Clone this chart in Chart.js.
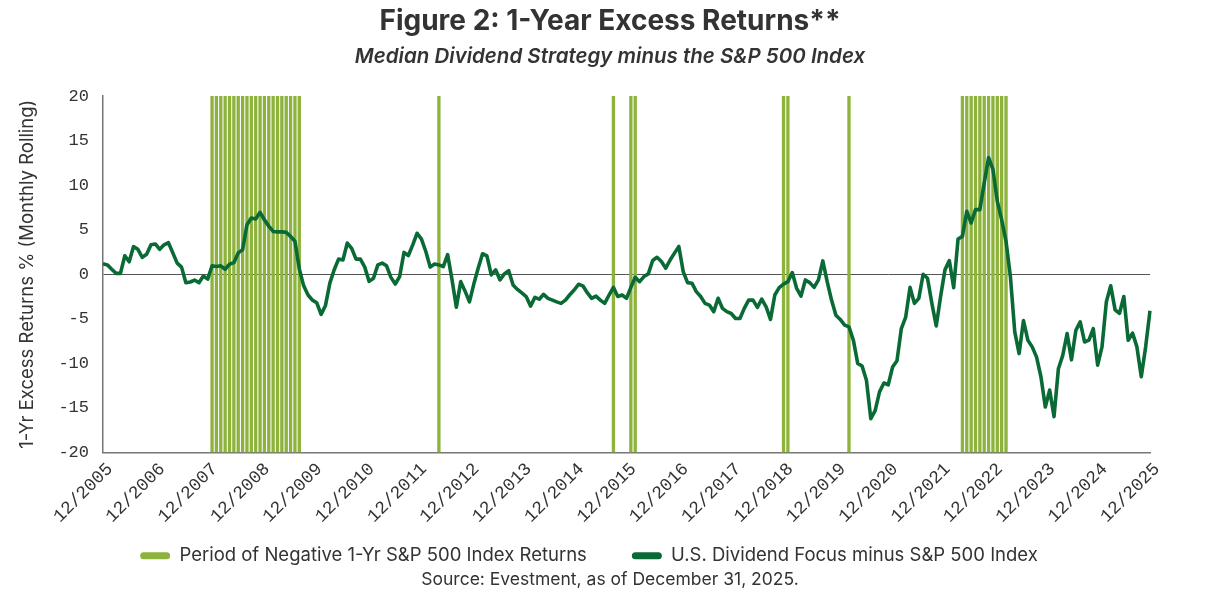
<!DOCTYPE html>
<html>
<head>
<meta charset="utf-8">
<script src="https://cdn.jsdelivr.net/npm/chart.js@4.4.1/dist/chart.umd.min.js"></script>
<style>
  html,body{margin:0;padding:0;background:#fff}
  #wrap{width:1220px;height:610px}
</style>
</head>
<body>
<div id="wrap"><canvas id="c" width="1220" height="610"></canvas></div>
<script>
// ---- Data ----
const START_YEAR = 2005, START_MONTH = 12;   // first point 12/2005, last 12/2025 (monthly)
// 1-yr excess return, U.S. Dividend Focus minus S&P 500 (%)
const excessReturns = [
  1.17, 1.05, 0.56, 0.1, 0.1, 2.07, 1.4, 3.1, 2.8, 1.9, 2.25, 3.3,
  3.4, 2.8, 3.3, 3.55, 2.4, 1.25, 0.8, -0.95, -0.87, -0.65, -0.95, -0.2,
  -0.55, 0.95, 0.87, 0.95, 0.56, 1.13, 1.3, 2.4, 2.75, 5.55, 6.3, 6.2,
  6.95, 6.1, 5.4, 4.8, 4.75, 4.75, 4.7, 4.25, 3.7, 0.6, -1.3, -2.33,
  -2.9, -3.2, -4.5, -3.5, -1.0, 0.5, 1.7, 1.6, 3.5, 2.9, 1.7, 1.7,
  0.8, -0.8, -0.45, 1.05, 1.25, 0.95, -0.35, -1.1, -0.25, 2.45, 2.1, 3.3,
  4.6, 3.95, 2.55, 0.8, 1.15, 1.05, 0.85, 2.2, -0.6, -3.7, -0.83, -1.9,
  -3.1, -1.1, 0.68, 2.3, 2.07, -0.08, 0.5, -0.64, 0.04, 0.4, -1.2, -1.7,
  -2.1, -2.5, -3.57, -2.6, -2.8, -2.25, -2.7, -2.9, -3.1, -3.27, -2.9, -2.3,
  -1.77, -1.13, -1.3, -2.07, -2.7, -2.45, -2.9, -3.27, -2.33, -1.47, -2.5, -2.33,
  -2.7, -1.47, -0.34, -0.83, -0.26, 0.04, 1.54, 1.9, 1.43, 0.68, 1.6, 2.37,
  3.12, 0.3, -0.94, -1.0, -1.95, -2.5, -3.27, -3.46, -4.2, -2.7, -3.83, -4.2,
  -4.4, -4.96, -4.96, -3.83, -2.9, -2.9, -3.72, -2.78, -3.65, -5.07, -2.33, -1.5,
  -1.1, -0.83, 0.19, -1.58, -2.45, -0.64, -0.94, -1.47, -0.64, 1.5, -0.83, -2.9,
  -4.6, -5.07, -5.7, -5.9, -7.4, -10.0, -10.3, -11.9, -16.2, -15.3, -13.2, -12.2,
  -12.4, -10.4, -9.7, -6.1, -4.8, -1.47, -3.27, -2.7, 0.0, -0.45, -3.27, -5.8,
  -2.5, 0.49, 1.54, -1.5, 3.95, 4.25, 7.07, 5.75, 7.25, 7.25, 10.25, 13.1,
  11.76, 8.2, 6.1, 3.68, -0.26, -6.46, -8.9, -5.2, -7.4, -8.15, -9.3, -11.5,
  -14.9, -13.0, -15.97, -10.6, -9.1, -6.65, -9.6, -6.3, -5.34, -7.6, -7.4, -6.1,
  -10.2, -8.15, -3.08, -1.3, -4.0, -4.4, -2.5, -7.4, -6.6, -8.15, -11.5, -8.15,
  -4.1
];
// months where the trailing 1-yr S&P 500 return was negative (first, last)
const negativePeriods = [
  ["01/2008", "09/2009"],
  ["05/2012", "05/2012"],
  ["09/2015", "09/2015"],
  ["01/2016", "02/2016"],
  ["12/2018", "01/2019"],
  ["03/2020", "03/2020"],
  ["05/2022", "03/2023"]
];
const yTicks = [-20, -15, -10, -5, 0, 5, 10, 15, 20];

const TITLE = "Figure 2: 1-Year Excess Returns**";
const SUBTITLE = "Median Dividend Strategy minus the S&P 500 Index";
const Y_TITLE = "1-Yr Excess Returns % (Monthly Rolling)";
const BAR_LABEL = "Period of Negative 1-Yr S&P 500 Index Returns";
const LINE_LABEL = "U.S. Dividend Focus minus S&P 500 Index";
const SOURCE = "Source: Evestment, as of December 31, 2025.";

// ---- Colours / fonts ----
const BAR_COLOR = "#8db33d";
const LINE_COLOR = "#0a6a36";
const TEXT = "#333333";
const SANS = "Inter, 'Open Sans', sans-serif";
const MONO = "'Liberation Mono', 'DejaVu Sans Mono', monospace";

// ---- Build ----
const pad2 = n => (n < 10 ? "0" : "") + n;
const labels = excessReturns.map((_, i) => {
  const k = START_MONTH - 1 + i;
  return pad2(k % 12 + 1) + "/" + (START_YEAR + Math.floor(k / 12));
});
const negIdx = new Set();
for (const [a, b] of negativePeriods) {
  const i0 = labels.indexOf(a), i1 = labels.indexOf(b);
  for (let i = i0; i <= i1; i++) negIdx.add(i);
}
const barData = labels.map((_, i) => negIdx.has(i) ? [yTicks[0], yTicks[yTicks.length - 1]] : null);

// titles centred on the page + source line
const textPlugin = {
  id: "pageText",
  afterDraw(chart) {
    const ctx = chart.ctx, cx = chart.width / 2;
    ctx.save();
    ctx.fillStyle = TEXT;
    ctx.textAlign = "center";
    ctx.textBaseline = "middle";
    ctx.font = "bold 28px " + SANS;
    ctx.fillText(TITLE, cx, 22);
    ctx.font = "italic 600 20.5px " + SANS;
    ctx.fillText(SUBTITLE, cx, 57);
    ctx.font = "17.5px " + SANS;
    ctx.fillText(SOURCE, cx, chart.height - 30);
    ctx.restore();
  }
};

new Chart(document.getElementById("c"), {
  type: "line",
  data: {
    labels,
    datasets: [
      {
        type: "bar", label: BAR_LABEL, data: barData,
        backgroundColor: BAR_COLOR, borderWidth: 0,
        barPercentage: 0.95, categoryPercentage: 0.8, order: 2
      },
      {
        type: "line", label: LINE_LABEL, data: excessReturns,
        borderColor: LINE_COLOR, backgroundColor: LINE_COLOR,
        borderWidth: 3.6, pointRadius: 0, tension: 0, order: 1,
        borderJoinStyle: "round"
      }
    ]
  },
  options: {
    responsive: false, animation: false,
    layout: { padding: { left: 28, right: 70, top: 96, bottom: 35 } },
    plugins: {
      title: { display: false },
      legend: {
        position: "bottom",
        labels: {
          color: TEXT, font: { family: SANS, size: 18.5 },
          boxWidth: 30, boxHeight: 7, padding: 45,
          useBorderRadius: true, borderRadius: 3.5,
          generateLabels: chart => chart.data.datasets.map((d, i) => ({
            text: d.label, fillStyle: d.backgroundColor, strokeStyle: d.backgroundColor,
            lineWidth: 0, hidden: false, datasetIndex: i, fontColor: TEXT, borderRadius: 3.5
          }))
        }
      },
      tooltip: { enabled: false }
    },
    scales: {
      x: {
        type: "category", offset: false,
        grid: { display: false, drawTicks: false },
        border: { display: true, color: "#777", width: 1.5 },
        ticks: {
          autoSkip: false, minRotation: 45, maxRotation: 45, padding: 6, labelOffset: 7,
          color: TEXT, font: { family: MONO, size: 18 },
          callback: (v, i) => labels[i].startsWith("12/") ? labels[i] : ""
        },
        afterFit: s => {
          s.height = 49;
          s._computeLabelArea = () => undefined;  // rotated labels run past the box, don't clip them
        }
      },
      y: {
        min: yTicks[0], max: yTicks[yTicks.length - 1], z: 1,
        afterBuildTicks: s => { s.ticks = yTicks.map(v => ({ value: v })); },
        grid: {
          drawTicks: false,
          color: c => c.tick && c.tick.value === 0 ? "#555" : "rgba(0,0,0,0)",
          lineWidth: 1
        },
        border: { display: true, color: "#777", width: 1.5 },
        ticks: { color: TEXT, font: { family: MONO, size: 17 }, padding: 14 },
        title: {
          display: true, text: Y_TITLE, color: TEXT,
          font: { family: SANS, size: 18.5 }, padding: { top: -12, bottom: 2 }
        },
        afterFit: s => { s.width = 75; }
      }
    }
  },
  plugins: [textPlugin]
});
</script>
</body>
</html>
